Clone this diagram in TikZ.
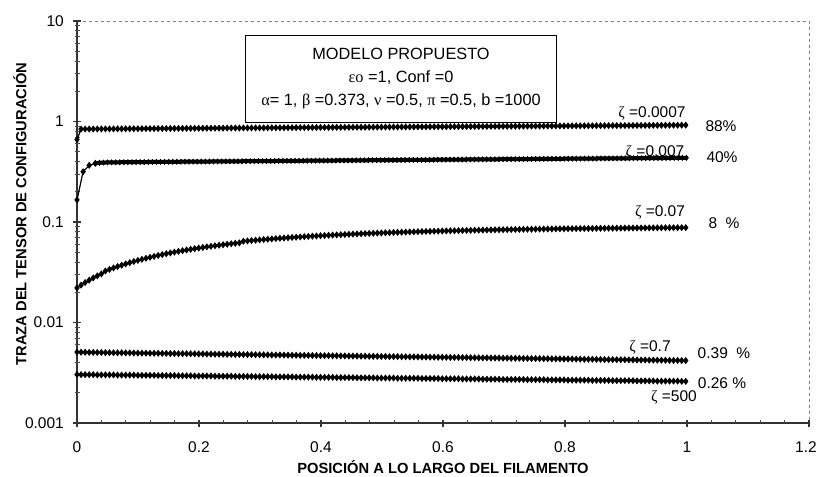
\documentclass[tikz,border=0pt]{standalone}
\usepackage{fontspec}
\setmainfont{Liberation Sans}
\newfontfamily\grk{Liberation Serif}
\usetikzlibrary{plotmarks}

\begin{document}
\begin{tikzpicture}[x=1pt,y=1pt,
  every node/.style={font=\fontsize{15.5}{18}\selectfont,inner sep=0pt},
  axistitle/.style={font=\bfseries\fontsize{14.7}{17}\selectfont},
  axisline/.style={line width=1.2pt,black!80},
  frameline/.style={line width=0.7pt,gray,dashed},
  curve/.style={line width=1.2pt,mark=diamond*,mark size=2.6pt,mark options={solid,fill=black}}]
  \useasboundingbox (0,0) rectangle (818,476);
  \begin{scope}[shift={(77,53)},x=610pt,y=100.5pt]
    % frame and axes
    \draw[frameline] (0,4) -- (1.2,4) -- (1.2,0);
    \draw[axisline] (0,4) -- (0,0) -- (1.2,0);
    \foreach \d in {0,...,4}
      \draw[axisline] (0,\d) ++(-4pt,0) -- ++(8pt,0);
    \foreach \d in {0,...,3}
      \foreach \k in {2,...,9}
        \draw[line width=0.7pt,black!70] (0,{\d+log10(\k)}) ++(-2.5pt,0) -- ++(5pt,0);
    \foreach \i in {1,...,29}
      \draw[line width=0.7pt,black!70] ({\i*0.04},0) -- ++(0,3pt);
    \foreach \i in {0,...,6}
      \draw[axisline] ({\i*0.2},0) ++(0,-4pt) -- ++(0,7pt);
    % tick labels
    \foreach \d/\lab in {0/0.001,1/0.01,2/0.1,3/1,4/10}
      \node[anchor=east] (yl\d) at ([xshift=-13pt]0,\d) {\lab};
    \foreach \i/\lab in {0/0,1/0.2,2/0.4,3/0.6,4/0.8,5/1}
      \node (xl\i) at ([yshift=-24pt]{\i*0.2},0) {\lab};
    \node (xl6) at ([xshift=-3pt,yshift=-24pt]1.2,0) {1.2};
    % curves
    \draw[curve] plot[domain=0:1,samples=151] (\x,{log10((\x<0.004)?0.66:(0.84+0.08*\x))+3});
    \draw[curve] plot[domain=0:0.03,samples=4] (\x,{log10(0.39+0.045*\x-0.225*exp(-\x/0.009))+3});
    \draw[curve,line width=4pt,mark options={line width=0.6pt}] plot[domain=0.03:1,samples=146] (\x,{log10(0.39+0.045*\x-0.225*exp(-\x/0.009))+3});
    \draw[curve] plot[domain=0:1,samples=151] (\x,{log10(0.09-0.068*exp(-\x/0.3))+3});
    \draw[curve] plot[domain=0:1,samples=151] (\x,{log10(0.00503*exp(-0.207*\x))+3});
    \draw[curve] plot[domain=0:1,samples=151] (\x,{log10(0.00304*exp(-0.16*\x))+3});
  \end{scope}
  % legend
  \node[draw,line width=0.8pt,fill=white,minimum width=311pt,minimum height=87pt,align=center,
    font=\fontsize{16.3}{23}\selectfont] (legend) at (401,397.5)
    {MODELO PROPUESTO\\{\grk εo} =1, Conf =0\\{\grk α}= 1, {\grk β} =0.373, {\grk ν} =0.5, {\grk π} =0.5, b =1000};
  % curve labels
  \node (z1) at (652,363) {{\grk ζ} =0.0007};
  \node (p1) at (721,350) {88\%};
  \node (z2) at (655,324) {{\grk ζ} =0.007};
  \node (p2) at (722,319) {40\%};
  \node (z3) at (660,264) {{\grk ζ} =0.07};
  \node (p3) at (724,253) {8~~\%};
  \node (z4) at (650,129) {{\grk ζ} =0.7};
  \node (p4) at (724,123) {0.39~~\%};
  \node (p5) at (722,93) {0.26~\%};
  \node (z5) at (674,79) {{\grk ζ} =500};
  % axis titles
  \node[axistitle,rotate=90] (ytitle) at (20,262) {TRAZA DEL TENSOR DE CONFIGURACIÓN};
  \node[axistitle] (xtitle) at (443,9) {POSICIÓN A LO LARGO DEL FILAMENTO};
\end{tikzpicture}
\end{document}
